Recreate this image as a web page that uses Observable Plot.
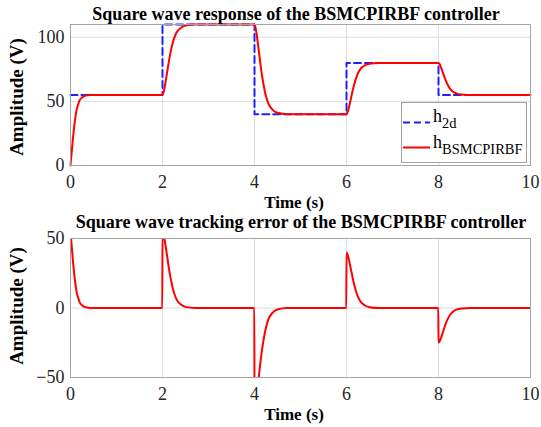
<!DOCTYPE html>
<html>
<head>
<meta charset="utf-8">
<script src="https://cdn.jsdelivr.net/npm/d3@7"></script>
<script src="https://cdn.jsdelivr.net/npm/@observablehq/plot@0.6"></script>
<style>
  body { margin: 0; background: #fff; }
  #wrap { position: relative; width: 541px; height: 427px; overflow: hidden; font-family: 'Liberation Serif'; }
  #top, #bottom { position: absolute; left: 0; }
  #top { top: 0; }
  #bottom { top: 214px; }
  .lbl { position: absolute; font-family: 'Liberation Serif'; font-weight: bold; color: #000; white-space: nowrap; line-height: 1; }
  .title { font-size: 18px; transform: translateX(-50%); }
  .xl { font-size: 17px; transform: translateX(-50%); }
  .yl { font-size: 19px; transform: translate(-50%, -50%) rotate(-90deg); }
  #legend { position: absolute; left: 401px; top: 102px; width: 124px; height: 59px; border: 1px solid #a3a3a3; background: #fff; font-family: 'Liberation Serif'; }
  .lgt { position: absolute; left: 31px; font-size: 18px; line-height: 1; white-space: nowrap; }
  .lgt sub { font-size: 14.5px; vertical-align: -6px; line-height: 1; }
</style>
</head>
<body>
<div id="wrap">
  <div id="top"></div>
  <div id="bottom"></div>
</div>
<script>
// ---- data ----
const xTicks = [0, 2, 4, 6, 8, 10];
const yTicksTop = [0, 50, 100];
const yTicksBottom = [-50, 0, 50];

// desired square wave h_2d (step after each time)
const stepTimes = [0, 2, 4, 6, 8, 10];
const refLevels = [55, 110, 40, 80, 55, 55];

// controller response h_BSMCPIRBF
const respTime = [
  0, 0.02, 0.05, 0.07, 0.1, 0.13, 0.17, 0.2, 0.25, 0.33, 0.44, 0.6,
  2, 2.02, 2.05, 2.08, 2.1, 2.15, 2.2, 2.25, 2.3, 2.4, 2.5, 2.7,
  4, 4.02, 4.05, 4.08, 4.1, 4.15, 4.2, 4.25, 4.3, 4.4, 4.5, 4.7,
  6, 6.02, 6.05, 6.08, 6.1, 6.15, 6.2, 6.25, 6.3, 6.4, 6.5, 6.7,
  8, 8.02, 8.05, 8.08, 8.1, 8.15, 8.2, 8.25, 8.3, 8.4, 8.5, 8.7,
  10
];
const respValue = [
  0, 8, 20, 27, 36, 43, 48, 51, 53, 54.5, 55, 55,
  55, 56.7, 61.6, 68.2, 72.6, 83.6, 92.4, 99, 103.4, 107.5, 109.2, 110,
  110, 107.9, 101.6, 93.2, 87.6, 73.6, 62.4, 54, 48.4, 43.2, 41.1, 40,
  40, 41.2, 44.8, 49.6, 52.8, 60.8, 67.2, 72, 75.2, 78.2, 79.4, 80,
  80, 79.3, 77, 74, 72, 67, 63, 60, 58, 56.1, 55.4, 55,
  55
];

// tracking error
const errTime = [
  0, 0.02, 0.05, 0.07, 0.1, 0.13, 0.17, 0.2, 0.25, 0.33, 0.44, 0.6, 1.995,
  2, 2.02, 2.05, 2.08, 2.1, 2.15, 2.2, 2.25, 2.3, 2.4, 2.5, 2.7, 3.995,
  4, 4.02, 4.05, 4.08, 4.1, 4.15, 4.2, 4.25, 4.3, 4.4, 4.5, 4.7, 5.995,
  6, 6.02, 6.05, 6.08, 6.1, 6.15, 6.2, 6.25, 6.3, 6.4, 6.5, 6.7, 7.995,
  8, 8.02, 8.05, 8.08, 8.1, 8.15, 8.2, 8.25, 8.3, 8.4, 8.5, 8.7,
  10
];
const errValue = [
  55, 47, 35, 28, 19, 12, 7, 4, 2, 0.5, 0, 0, 0,
  55, 53.3, 48.4, 41.8, 37.4, 26.4, 17.6, 11, 6.6, 2.5, 0.8, 0, 0,
  -70, -67.9, -61.6, -53.2, -47.6, -33.6, -22.4, -14, -8.4, -3.2, -1.1, 0, 0,
  40, 38.8, 35.2, 30.4, 27.2, 19.2, 12.8, 8, 4.8, 1.8, 0.6, 0, 0,
  -25, -24.3, -22, -19, -17, -12, -8, -5, -3, -1.1, -0.4, 0,
  0
];

const titles = [
  "Square wave response of the BSMCPIRBF controller",
  "Square wave tracking error of the BSMCPIRBF controller"
];
const xLabel = "Time (s)";
const yLabel = "Amplitude (V)";
const legendNames = [["h", "2d"], ["h", "BSMCPIRBF"]];

// ---- build tables ----
const ref = stepTimes.map((t, i) => ({t, v: refLevels[i]}));
const resp = respTime.map((t, i) => ({t, v: respValue[i]}));
const err = errTime.map((t, i) => ({t, v: errValue[i]}));

const gridColor = "#dedede";
const frameColor = "#a3a3a3";
const tickColor = "#262626";
const common = {
  width: 541,
  marginLeft: 70,
  marginRight: 11,
  style: {fontFamily: "Liberation Serif", fontSize: "18px", color: tickColor, background: "transparent"},
  x: {domain: [0, 10]}
};

const topPlot = Plot.plot({
  ...common,
  height: 214,
  marginTop: 24,
  marginBottom: 49,
  y: {domain: [0, 110]},
  marks: [
    Plot.gridX(xTicks, {stroke: gridColor, strokeOpacity: 1}),
    Plot.gridY(yTicksTop, {stroke: gridColor, strokeOpacity: 1}),
    Plot.axisX(xTicks, {tickSize: 0, tickPadding: 10, label: null}),
    Plot.axisY(yTicksTop, {tickSize: 0, tickPadding: 6, label: null}),
    Plot.line(ref, {x: "t", y: "v", curve: "step-after", stroke: "#1f1fff", strokeWidth: 2, strokeDasharray: "7,4"}),
    Plot.line(resp, {x: "t", y: "v", curve: "monotone-x", stroke: "#ff0000", strokeWidth: 2}),
    Plot.frame({stroke: frameColor})
  ]
});

const bottomPlot = Plot.plot({
  ...common,
  height: 213,
  marginTop: 24,
  marginBottom: 50,
  y: {domain: [-50, 50]},
  marks: [
    Plot.gridX(xTicks, {stroke: gridColor, strokeOpacity: 1}),
    Plot.gridY(yTicksBottom, {stroke: gridColor, strokeOpacity: 1}),
    Plot.axisX(xTicks, {tickSize: 0, tickPadding: 10, label: null}),
    Plot.axisY(yTicksBottom, {tickSize: 0, tickPadding: 6, label: null}),
    Plot.line(err, {x: "t", y: "v", curve: "monotone-x", stroke: "#ff0000", strokeWidth: 2, clip: true}),
    Plot.frame({stroke: frameColor})
  ]
});

document.getElementById("top").appendChild(topPlot);
document.getElementById("bottom").appendChild(bottomPlot);

// ---- titles, axis labels and legend as HTML text ----
const wrap = d3.select("#wrap");
const addLabel = (cls, x, y, txt) =>
  wrap.append("div").attr("class", "lbl " + cls).style("left", x + "px").style("top", y + "px").text(txt);
addLabel("title", 296, 5, titles[0]);
addLabel("title", 301, 213, titles[1]);
addLabel("xl", 294, 194, xLabel);
addLabel("xl", 294, 406, xLabel);
addLabel("yl", 16, 97, yLabel);
addLabel("yl", 16, 306, yLabel);

const legend = wrap.append("div").attr("id", "legend");
const ls = legend.append("svg").attr("width", 30).attr("height", 59).style("position", "absolute").style("left", 0).style("top", 0);
ls.append("line").attr("x1", 1).attr("x2", 28).attr("y1", 19.5).attr("y2", 19.5)
  .attr("stroke", "#1f1fff").attr("stroke-width", 2).attr("stroke-dasharray", "7,4");
ls.append("line").attr("x1", 1).attr("x2", 28).attr("y1", 44.5).attr("y2", 44.5)
  .attr("stroke", "#ff0000").attr("stroke-width", 2);
legendNames.forEach(([main, sub], i) => {
  const d = legend.append("div").attr("class", "lgt").style("top", (4 + i * 26) + "px");
  d.append("span").text(main);
  d.append("sub").text(sub);
});
</script>
</body>
</html>
